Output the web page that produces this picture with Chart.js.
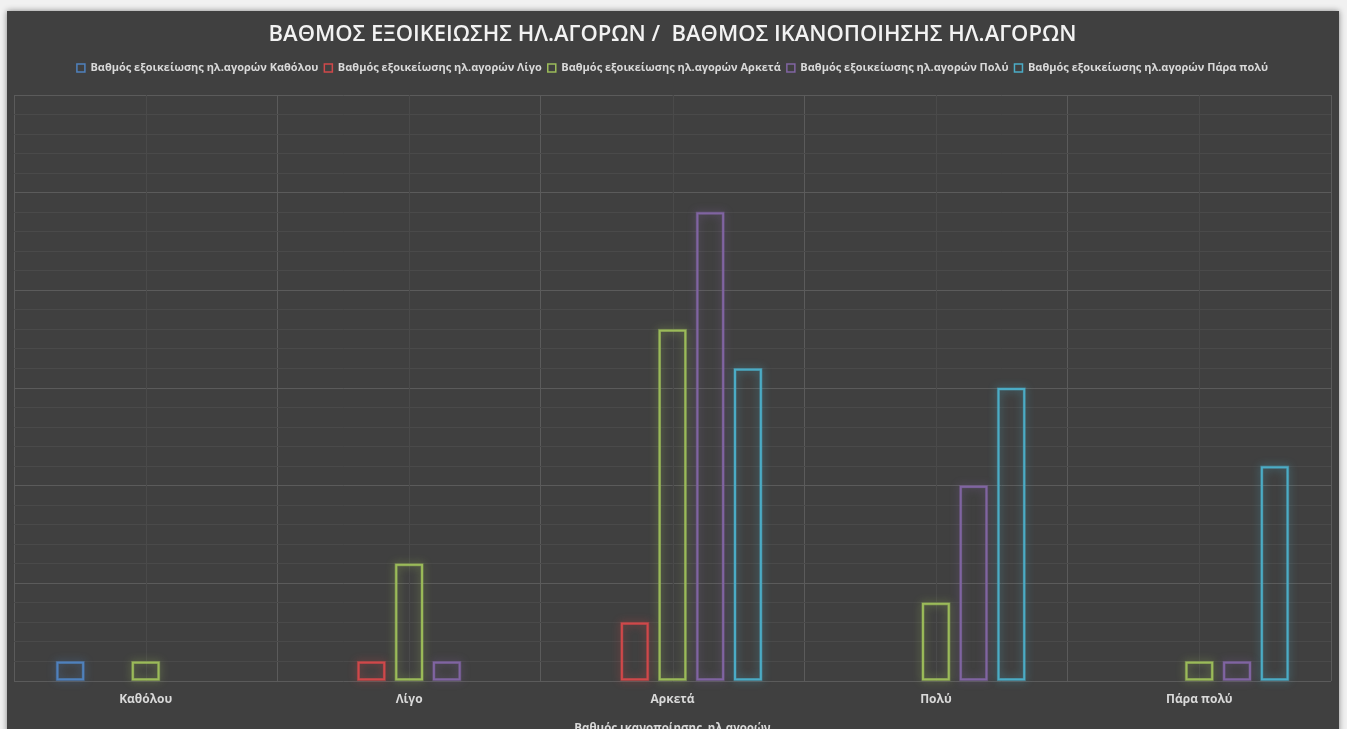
<!DOCTYPE html>
<html lang="el">
<head>
<meta charset="utf-8">
<title>Βαθμός εξοικείωσης / ικανοποίησης ηλ.αγορών</title>
<script src="https://cdn.jsdelivr.net/npm/chart.js@4.4.1/dist/chart.umd.min.js"></script>
<style>
  html, body { margin: 0; padding: 0; width: 1347px; height: 729px; overflow: hidden; background: #f1f1f1; }
  #panel {
    position: absolute; left: 7px; top: 11px; width: 1332px; height: 740px;
    background: #404040; box-shadow: 0 0 6px rgba(0,0,0,0.45);
  }
  #panel canvas { display: block; }
</style>
</head>
<body>
<div id="panel"><canvas id="chart"></canvas></div>
<script>
// Satisfaction levels (x axis)
const categories = ['Καθόλου', 'Λίγο', 'Αρκετά', 'Πολύ', 'Πάρα πολύ'];

// Familiarity series names
const seriesNames = [
  'Βαθμός εξοικείωσης ηλ.αγορών Καθόλου',
  'Βαθμός εξοικείωσης ηλ.αγορών Λίγο',
  'Βαθμός εξοικείωσης ηλ.αγορών Αρκετά',
  'Βαθμός εξοικείωσης ηλ.αγορών Πολύ',
  'Βαθμός εξοικείωσης ηλ.αγορών Πάρα πολύ'
];

// Counts per satisfaction level for each familiarity level
const familiarityNone     = [1, 0, 0, 0, 0];
const familiarityLittle   = [0, 1, 3, 0, 0];
const familiarityEnough   = [1, 6, 18, 4, 1];
const familiarityMuch     = [0, 1, 24, 10, 1];
const familiarityVeryMuch = [0, 0, 16, 15, 11];

const seriesValues = [familiarityNone, familiarityLittle, familiarityEnough, familiarityMuch, familiarityVeryMuch];
const seriesColors = ['#4f81bd', '#d0484a', '#9bbb59', '#8064a2', '#4bacc6'];

const xTitle = 'Βαθμός ικανοποίησης  ηλ.αγορών';
const chartTitle = 'ΒΑΘΜΟΣ ΕΞΟΙΚΕΙΩΣΗΣ ΗΛ.ΑΓΟΡΩΝ /  ΒΑΘΜΟΣ ΙΚΑΝΟΠΟΙΗΣΗΣ ΗΛ.ΑΓΟΡΩΝ';

const FONT = "'Open Sans', 'Noto Sans', sans-serif";
const GRID_MAJOR = '#5b5b5b';
const GRID_MINOR = '#4a4a4a';

function withAlpha(hex, a) {
  const n = parseInt(hex.slice(1), 16);
  return `rgba(${(n >> 16) & 255}, ${(n >> 8) & 255}, ${n & 255}, ${a})`;
}

// Soft outer glow around each hollow bar
const barGlow = {
  id: 'barGlow',
  beforeDatasetDraw(chart, args) {
    const ds = chart.data.datasets[args.index];
    const ctx = chart.ctx;
    ctx.save();
    ctx.shadowColor = withAlpha(ds.borderColor, 0.95);
    ctx.shadowBlur = 8;
    ctx.strokeStyle = withAlpha(ds.borderColor, 0.5);
    ctx.lineWidth = 3;
    args.meta.data.forEach(bar => {
      const p = bar.getProps(['x', 'y', 'base', 'width'], true);
      const h = Math.abs(p.base - p.y);
      if (h < 0.5) return;
      ctx.strokeRect(p.x - p.width / 2 + 1, Math.min(p.y, p.base) + 1, p.width - 2, h - 2);
    });
    ctx.restore();
  }
};

// Faint vertical lines through each category centre
const categoryCentreLines = {
  id: 'categoryCentreLines',
  beforeDatasetsDraw(chart) {
    const { ctx, chartArea, scales } = chart;
    ctx.save();
    ctx.strokeStyle = GRID_MINOR;
    ctx.lineWidth = 1;
    categories.forEach((c, i) => {
      const x = Math.round(scales.x.getPixelForValue(i)) + 0.5;
      ctx.beginPath();
      ctx.moveTo(x, chartArea.top);
      ctx.lineTo(x, chartArea.bottom);
      ctx.stroke();
    });
    ctx.restore();
  }
};

new Chart(document.getElementById('chart'), {
  type: 'bar',
  data: {
    labels: categories,
    datasets: seriesNames.map((name, i) => ({
      label: name,
      data: seriesValues[i],
      backgroundColor: 'rgba(0,0,0,0)',
      borderColor: seriesColors[i],
      borderWidth: 2,
      borderSkipped: false,
      categoryPercentage: 0.716,
      barPercentage: 0.74
    }))
  },
  options: {
    responsive: true,
    maintainAspectRatio: false,
    animation: false,
    layout: { padding: { left: 7, right: 8, top: 0, bottom: 15.8 } },
    plugins: {
      title: {
        display: true,
        text: chartTitle,
        color: '#f2f2f2',
        font: { family: FONT, size: 22, weight: '600' },
        padding: { top: 10.4, bottom: 8.7 }
      },
      legend: {
        display: true,
        position: 'top',
        weight: 1600,
        labels: {
          color: '#d9d9d9',
          font: { family: FONT, size: 11, weight: '700' },
          boxWidth: 8,
          boxHeight: 8,
          padding: 6,
          generateLabels(chart) {
            return Chart.defaults.plugins.legend.labels.generateLabels(chart).map(l => ({ ...l, lineWidth: 1.5 }));
          }
        }
      },
      // empty subtitle used as a spacer between legend and plot
      subtitle: {
        display: true,
        text: '',
        weight: 1500,
        font: { size: 1 },
        padding: { top: 10.3, bottom: 0 }
      },
      tooltip: { enabled: false }
    },
    scales: {
      x: {
        grid: { color: GRID_MAJOR, lineWidth: 1, drawTicks: false, offset: true },
        border: { display: false },
        ticks: {
          color: '#d9d9d9',
          font: { family: FONT, size: 12, weight: '700' },
          padding: 11
        },
        title: {
          display: true,
          text: xTitle,
          color: '#d9d9d9',
          font: { family: FONT, size: 11.5, weight: '700' },
          padding: { top: 4, bottom: 0 }
        }
      },
      y: {
        min: 0,
        max: 30,
        grid: {
          drawTicks: false,
          color: ctx => (ctx.tick && ctx.tick.value % 5 === 0) ? GRID_MAJOR : GRID_MINOR
        },
        border: { display: false },
        ticks: { display: false, stepSize: 1 }
      }
    }
  },
  plugins: [categoryCentreLines, barGlow]
});
</script>
</body>
</html>
